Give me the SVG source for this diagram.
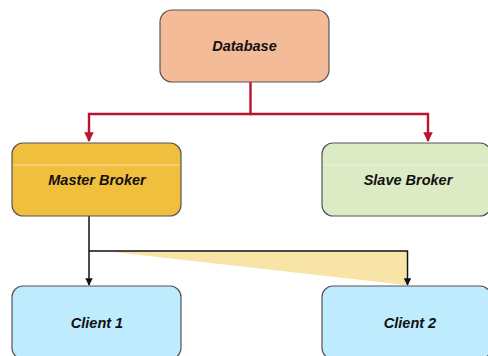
<svg xmlns="http://www.w3.org/2000/svg" width="488" height="356" viewBox="0 0 488 356">
<defs>
<marker id="ar" viewBox="0 0 10 10" refX="9" refY="5" markerWidth="4" markerHeight="4" orient="auto" markerUnits="strokeWidth"><path d="M0,0 L10,5 L0,10 z" fill="#B8162F"/></marker>
<marker id="ab" viewBox="0 0 10 10" refX="9" refY="5" markerWidth="5" markerHeight="5" orient="auto" markerUnits="strokeWidth"><path d="M0,0 L10,5 L0,10 z" fill="#111"/></marker>
</defs>
<style>
.n{stroke:#555;stroke-width:1.2}
.t{font-family:"Liberation Sans",Arial,sans-serif;font-size:14.5px;font-weight:bold;font-style:italic;fill:#111;text-anchor:middle}
.hl{stroke:#fff;stroke-opacity:0.5;stroke-width:1}
</style>
<rect width="488" height="356" fill="#fff"/>
<g id="connectors">
<polygon points="104,251 407,251 406,285" fill="#F8E4A6"/>
<path d="M250.5,82 V114 H89 V141" fill="none" stroke="#B8162F" stroke-width="2.4" marker-end="url(#ar)"/>
<path d="M250.5,114 H428 V141" fill="none" stroke="#B8162F" stroke-width="2.4" marker-end="url(#ar)"/>
<path d="M89,216 V285" fill="none" stroke="#111" stroke-width="1.5" marker-end="url(#ab)"/>
<path d="M89,251 H407.5 V285" fill="none" stroke="#111" stroke-width="1.5" marker-end="url(#ab)"/>
</g>
<g id="database">
<rect class="n" x="160" y="10" width="169" height="72" rx="12" fill="#F4BB98"/>
<text class="t" x="244.5" y="51">Database</text>
</g>
<g id="master">
<rect class="n" x="12" y="143" width="169" height="73" rx="11" fill="#F1BF3E"/>
<line class="hl" x1="13" y1="165" x2="180" y2="165"/>
<text class="t" x="97" y="185">Master Broker</text>
</g>
<g id="slave">
<rect class="n" x="322" y="143" width="169" height="73" rx="11" fill="#DDEBC5"/>
<line class="hl" x1="323" y1="165" x2="488" y2="165"/>
<text class="t" x="408" y="185">Slave Broker</text>
</g>
<g id="client1">
<rect class="n" x="12" y="286" width="169" height="73" rx="11" fill="#BEEBFD"/>
<text class="t" x="97" y="328">Client 1</text>
</g>
<g id="client2">
<rect class="n" x="322" y="286" width="169" height="73" rx="11" fill="#BEEBFD"/>
<text class="t" x="410" y="328">Client 2</text>
</g>
</svg>
